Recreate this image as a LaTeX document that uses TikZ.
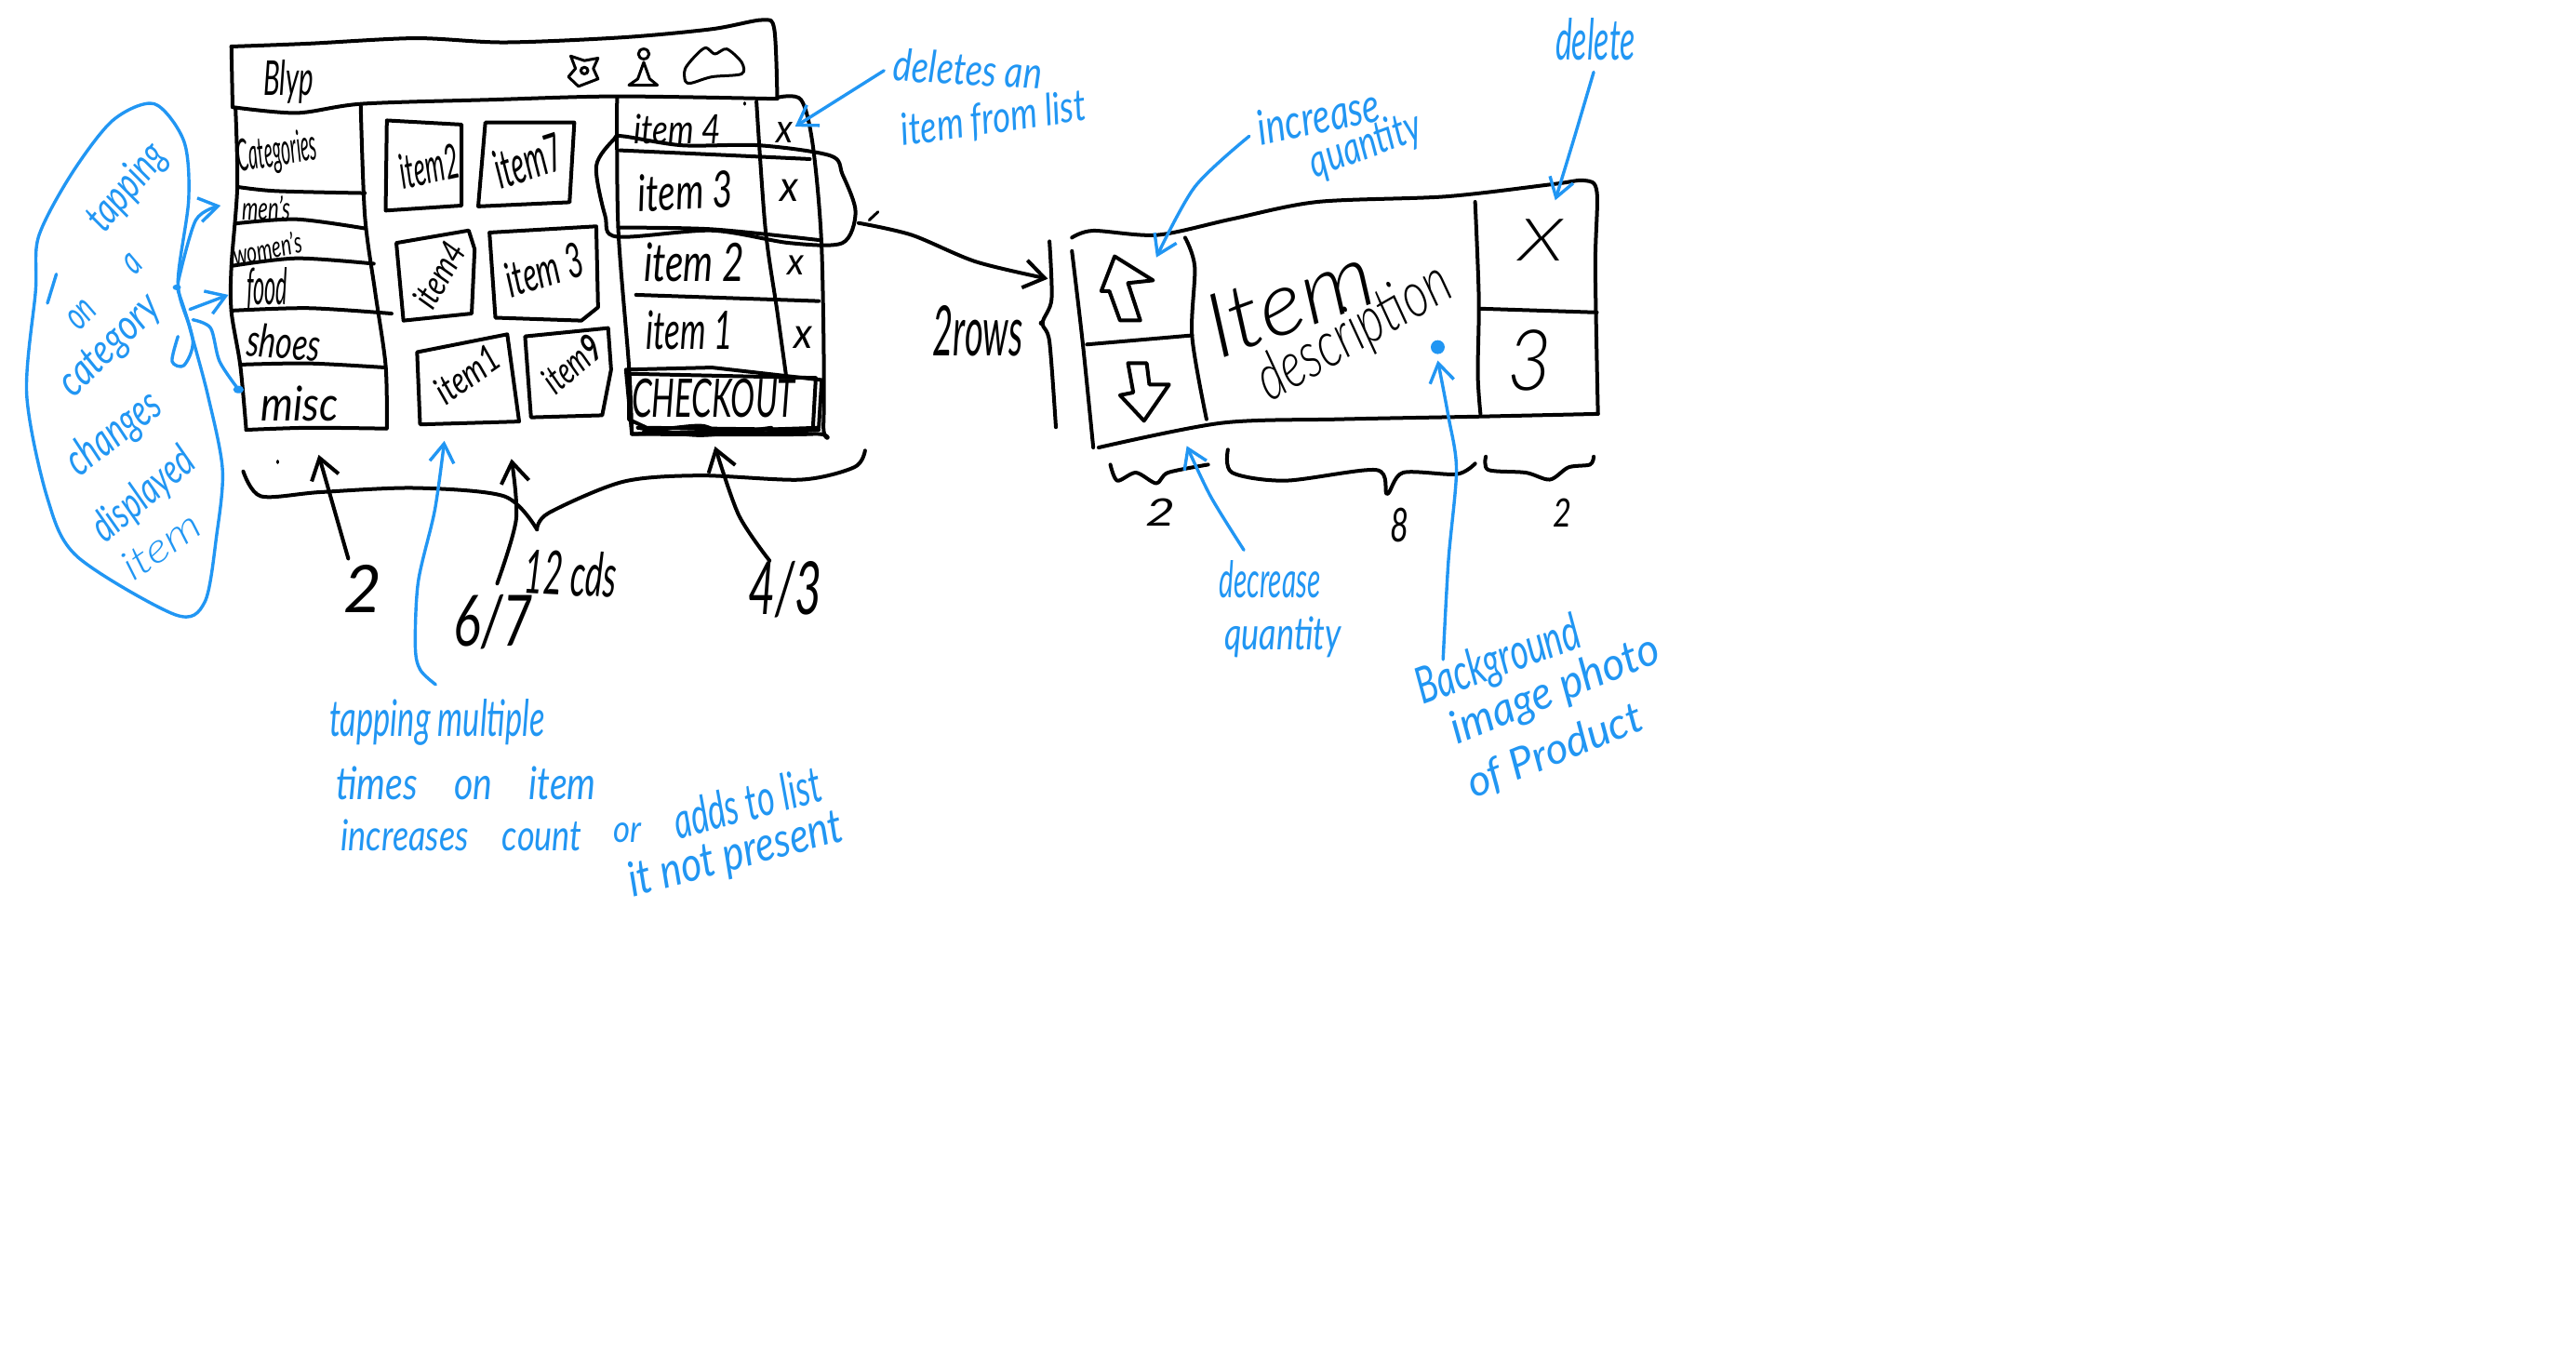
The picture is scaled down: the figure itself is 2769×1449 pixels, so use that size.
\documentclass[tikz,border=0pt]{standalone}
\usepackage{fontspec}
\usepackage{graphicx}
\setmainfont{Lato}
\newfontfamily\lightface{Lato Light}
\usetikzlibrary{arrows.meta}
\definecolor{inkblue}{RGB}{33,150,243}
\newdimen\pxu \pxu=.5pt
\newcommand\hw[3]{\resizebox{#1\pxu}{#2\pxu}{\itshape\vphantom{lg}#3}}
\newcommand\hwl[3]{\resizebox{#1\pxu}{#2\pxu}{\lightface\itshape\vphantom{lg}#3}}
\newcommand\sk[2]{\draw[#1] plot[smooth,tension=.5] coordinates {#2};}
\newcommand\skc[2]{\draw[#1] plot[smooth cycle,tension=.5] coordinates {#2};}
\tikzset{
  ink/.style={draw=black,line width=2pt,line cap=round,line join=round},
  thick ink/.style={ink,line width=2.6pt},
  bink/.style={draw=inkblue,line width=1.7pt,line cap=round,line join=round},
  head/.style={-{Straight Barb[length=11pt,width=15pt,line width=2pt]}},
  bhead/.style={-{Straight Barb[length=10pt,width=13pt,line width=1.7pt]}},
  lbl/.style={inner sep=0pt,text=black},
  blbl/.style={inner sep=0pt,text=inkblue},
  zoomA/.style={x=.31888pt,y=-.22321pt},
  zoomB/.style={shift={(490pt,0pt)},x=.28703pt,y=-.28703pt},
  zoomC/.style={shift={(150pt,-225pt)},x=.22321pt,y=-.17538pt},
}
\begin{document}
\begin{tikzpicture}[x=.5pt,y=-.5pt]
\useasboundingbox (0,0) rectangle (2769,1449);
\fill[white] (0,0) rectangle (2769,1449);

% ---- main screen sketch
\begin{scope}[zoomA]
\sk{ink}{(390,112) (520,105) (700,92) (850,102) (1050,90) (1200,70) (1285,48) (1305,70) (1310,235)}
\sk{ink}{(390,112) (392,258)}
\sk{ink}{(392,258) (500,272) (610,250) (830,240) (1040,232) (1310,238)}
% left column
\sk{ink}{(397,262) (400,450) (390,640) (390,750) (405,880) (415,1035)}
\sk{ink}{(415,1035) (520,1030) (650,1032)}
\sk{ink}{(608,255) (615,520) (632,700) (650,880) (652,1032)}
\sk{ink}{(400,450) (465,460) (615,465)}
\sk{ink}{(398,538) (500,528) (615,550)}
\sk{ink}{(392,640) (500,622) (630,635)}
\sk{ink}{(390,748) (520,742) (660,755)}
\sk{ink}{(405,878) (520,875) (650,885)}
% cards
\draw[ink] (652,290) -- (778,300) -- (778,495) -- (650,507) -- cycle;
\draw[ink] (818,295) -- (968,295) -- (960,487) -- (806,497) -- cycle;
\draw[ink] (668,585) -- (790,555) -- (800,600) -- (795,755) -- (680,772) -- cycle;
\draw[ink] (825,560) -- (1005,545) -- (1008,740) -- (980,772) -- (835,765) -- cycle;
\draw[ink] (703,848) -- (855,805) -- (875,1015) -- (708,1022) -- cycle;
\draw[ink] (885,810) -- (1025,790) -- (1030,890) -- (1015,1000) -- (895,1005) -- cycle;
% list column
\sk{ink}{(1040,235) (1042,550) (1060,880) (1065,1045)}
\sk{ink}{(1310,235) (1350,240) (1370,350) (1385,600) (1388,1020) (1370,1045) (1065,1045)}
\sk{ink}{(1275,245) (1290,550) (1310,750) (1325,905)}
\sk{ink}{(1045,362) (1200,372) (1365,383)}
\sk{ink}{(1042,548) (1200,552) (1380,578)}
\sk{ink}{(1072,710) (1380,725)}
\skc{ink}{(1035,335) (1005,400) (1020,520) (1040,570) (1200,555) (1330,585) (1420,585) (1442,510) (1420,420) (1400,375) (1280,350) (1150,350) (1050,328)}
% checkout
\draw[ink] (1055,890) -- (1200,885) -- (1385,915) -- (1380,1030) -- (1065,1045) -- cycle;
\draw[ink] (1060,900) -- (1375,910) -- (1370,1035) -- (1090,1030) -- (1060,1010) -- cycle;
\sk{ink}{(1085,1040) (1180,1025) (1230,1045) (1380,1035)}
\sk{ink}{(1075,1030) (1180,1048) (1300,1030)}
% header icons
\draw[ink,line width=1.5pt] (962,135) -- (985,146) -- (1008,140) -- (1000,165) -- (1008,190) -- (975,208) -- (958,185) -- (970,165) -- cycle;
\draw[ink,line width=1.5pt] (985,170) ellipse [x radius=6,y radius=8];
\draw[ink,line width=1.5pt] (1085,130) ellipse [x radius=9,y radius=12];
\draw[ink,line width=1.5pt] (1060,205) -- (1075,190) -- (1085,150) -- (1095,190) -- (1108,205) -- cycle;
\skc{ink,line width=1.5pt}{(1155,195) (1155,165) (1175,130) (1190,115) (1205,130) (1225,118) (1250,150) (1250,178) (1200,185) (1165,200)}
% stray marks
\draw[ink,line width=1.5pt] (468,1110) -- (468,1114);
\draw[ink,line width=1.5pt] (1465,530) -- (1480,510);
\draw[ink,line width=1.5pt] (1255,248) -- (1255,251);
% brace
\sk{ink}{(410,1135) (440,1195) (540,1185) (700,1175) (850,1195) (905,1275)}
\sk{ink}{(905,1275) (925,1235) (1050,1160) (1180,1145) (1350,1155) (1440,1125) (1458,1085)}
% coordinates of the black connectors
\coordinate (a2s) at (587,1345); \coordinate (a2e) at (537,1095);
\coordinate (a67s) at (838,1405); \coordinate (a67m) at (870,1250); \coordinate (a67e) at (862,1105);
\coordinate (a43s) at (1297,1350); \coordinate (a43m) at (1245,1240); \coordinate (a43e) at (1205,1075);
\coordinate (rowS) at (1447,537);
% blue blob
\skc{bink}{(260,250) (190,290) (120,420) (65,570) (60,700) (45,950) (80,1200) (130,1340) (295,1480) (345,1450) (365,1290) (375,1130) (350,950) (320,790) (300,680) (318,480) (310,340)}
\draw[bink] (95,660) -- (80,730);
\sk{bink}{(300,700) (325,820) (310,880) (290,870) (300,810)}
\fill[inkblue] (298,692) circle [radius=7];
\fill[inkblue] (402,938) circle [radius=9];
\coordinate (bMenS) at (300,680); \coordinate (bMenM) at (330,530); \coordinate (bMenE) at (372,495);
\coordinate (bFoodS) at (320,745); \coordinate (bFoodE) at (385,710);
\coordinate (bMiscS) at (325,770); \coordinate (bMiscM) at (355,790); \coordinate (bMiscN) at (370,870); \coordinate (bMiscE) at (402,938);
\coordinate (bDelS) at (1490,170); \coordinate (bDelE) at (1340,305);
\end{scope}

\draw[ink,head] plot[smooth,tension=.5] coordinates {(a2s) (a2e)};
\draw[ink,head] plot[smooth,tension=.5] coordinates {(a67s) (a67m) (a67e)};
\draw[ink,head] plot[smooth,tension=.5] coordinates {(a43s) (a43m) (a43e)};
\draw[bink,bhead] plot[smooth,tension=.5] coordinates {(bMenS) (bMenM) (bMenE)};
\draw[bink,bhead] (bFoodS) -- (bFoodE);
\draw[bink] plot[smooth,tension=.5] coordinates {(bMiscS) (bMiscM) (bMiscN) (bMiscE)};
\draw[bink,bhead] (bDelS) -- (bDelE);

% ---- row detail sketch
\begin{scope}[zoomB]
\sk{ink}{(300,445) (340,432) (460,440) (600,410) (760,378) (1000,368) (1200,345) (1260,338) (1283,360) (1280,500) (1285,775)}
\sk{ink}{(1285,775) (1060,780) (800,785) (580,792) (350,838)}
\sk{ink}{(300,470) (320,640) (340,838)}
\sk{ink}{(512,445) (530,500) (525,630) (552,785)}
\sk{ink}{(1055,378) (1062,560) (1060,700) (1065,775)}
\draw[ink] (328,645) -- (525,628);
\draw[ink] (1065,578) -- (1283,585);
\draw[ink] (390,600) -- (370,545) -- (355,545) -- (380,480) -- (452,525) -- (405,530) -- (428,600) -- cycle;
\draw[ink] (405,680) -- (440,680) -- (445,720) -- (482,720) -- (435,788) -- (390,740) -- (415,735) -- cycle;
\sk{ink}{(258,452) (262,560) (245,605) (258,640) (270,800)}
\fill[black] (243,605) circle [radius=5];
\sk{ink}{(372,870) (385,900) (420,885) (458,905) (480,885) (555,870)}
\sk{ink}{(592,842) (600,885) (700,900) (870,880) (890,925) (920,885) (1020,888) (1055,868)}
\sk{ink}{(1075,855) (1080,880) (1150,885) (1195,898) (1230,875) (1270,870) (1277,855)}
\coordinate (rowM0) at (0,440); \coordinate (rowM1) at (120,490); \coordinate (rowE) at (255,522);
\coordinate (bIncS) at (632,255); \coordinate (bIncM) at (530,350); \coordinate (bIncE) at (458,482);
\coordinate (bDeS) at (1277,135); \coordinate (bDeM) at (1240,260); \coordinate (bDeE) at (1205,375);
\coordinate (bDecS) at (622,1030); \coordinate (bDecM) at (560,930); \coordinate (bDecE) at (515,835);
\coordinate (bBgS) at (995,1235); \coordinate (bBgM) at (1005,1050); \coordinate (bBgN) at (1020,880); \coordinate (bBgO) at (1005,780); \coordinate (bBgE) at (985,675);
\fill[inkblue] (985,650) circle [radius=13];
\end{scope}
\draw[ink,head] plot[smooth,tension=.5] coordinates {(rowS) (rowM0) (rowM1) (rowE)};
\draw[bink,bhead] plot[smooth,tension=.5] coordinates {(bIncS) (bIncM) (bIncE)};
\draw[bink,bhead] plot[smooth,tension=.5] coordinates {(bDeS) (bDeM) (bDeE)};
\draw[bink,bhead] plot[smooth,tension=.5] coordinates {(bDecS) (bDecM) (bDecE)};
\draw[bink,bhead] plot[smooth,tension=.5] coordinates {(bBgS) (bBgM) (bBgN) (bBgO) (bBgE)};

% ---- lower note connector
\begin{scope}[zoomC]
\coordinate (bTapS) at (377,815); \coordinate (bTapA) at (340,770); \coordinate (bTapB) at (328,700);
\coordinate (bTapC) at (335,500); \coordinate (bTapD) at (375,280); \coordinate (bTapE) at (398,68);
\end{scope}
\draw[bink,bhead] plot[smooth,tension=.5] coordinates {(bTapS) (bTapA) (bTapB) (bTapC) (bTapD) (bTapE)};

% ---- texts in the main screen
\node[lbl] (tBlyp) at (310,88) {\hw{54}{38}{Blyp}};
\node[lbl,rotate=9] (tCat) at (298,165) {\hw{86}{35}{Categories}};
\node[lbl] (tMen) at (286,227) {\hw{52}{26}{men's}};
\node[lbl,rotate=12] (tWomen) at (288,270) {\hw{75}{24}{women's}};
\node[lbl] (tFood) at (287,312) {\hw{44}{40}{food}};
\node[lbl,rotate=-5] (tShoes) at (305,372) {\hw{79}{36}{shoes}};
\node[lbl] (tMisc) at (322,438) {\hw{83}{38}{misc}};
\node[lbl,rotate=12] (cA) at (462,183) {\hw{64}{38}{item2}};
\node[lbl,rotate=18] (cB) at (569,177) {\hw{74}{42}{item7}};
\node[lbl,rotate=60] (cC) at (475,297) {\hw{75}{28}{item4}};
\node[lbl,rotate=17] (cD) at (586,294) {\hw{85}{38}{item 3}};
\node[lbl,rotate=35] (cE) at (504,405) {\hw{76}{30}{item1}};
\node[lbl,rotate=40] (cF) at (617,394) {\hw{70}{30}{item{\bfseries 9}}};
\node[lbl] (lA) at (728,142) {\hw{93}{32}{item 4}};
\node[lbl,rotate=3] (lB) at (737,210) {\hw{102}{40}{item 3}};
\node[lbl] (lC) at (746,287) {\hw{108}{42}{item 2}};
\node[lbl] (lD) at (741,360) {\hw{93}{42}{item 1}};
\node[lbl] (xA) at (843,141) {\hw{18}{32}{x}};
\node[lbl] (xB) at (848,204) {\hw{20}{34}{x}};
\node[lbl] (xC) at (855,284) {\hw{18}{30}{x}};
\node[lbl] (xD) at (863,362) {\hw{20}{34}{x}};
\node[lbl] (tCheck) at (767,433) {\hw{176}{42}{CHECKOUT}};
% dimensions
\node[lbl] (n2) at (390,639) {\hw{41}{52}{2}};
\node[lbl,rotate=-3] (n12) at (613,622) {\hw{99}{48}{12 cds}};
\node[lbl] (n67) at (530,673) {\hw{85}{56}{6/7}};
\node[lbl] (n43) at (844,639) {\hw{79}{58}{4/3}};
% notes
\node[blbl,rotate=50] (b1) at (137,202) {\hw{108}{34}{tapping}};
\node[blbl,rotate=45] (b2) at (112,313) {\hw{100}{32}{on\qquad a}};
\node[blbl,rotate=45] (b3) at (118,372) {\hw{135}{34}{category}};
\node[blbl,rotate=38] (b4) at (123,467) {\hw{116}{36}{changes}};
\node[blbl,rotate=40] (b5) at (155,533) {\hw{130}{34}{displayed}};
\node[blbl,rotate=35] (b6) at (175,589) {\hw{94}{32}{\lightface item}};
\node[blbl,rotate=-3] (bn1) at (1040,78) {\hw{160}{35}{deletes an}};
\node[blbl,rotate=8] (bn2) at (1068,130) {\hw{200}{35}{item from list}};
\node[blbl] (bt1) at (470,776) {\hw{232}{40}{tapping multiple}};
\node[blbl] (bt2) at (501,846) {\hw{279}{36}{times\quad on\quad item}};
\node[blbl] (bt3) at (496,902) {\hw{259}{34}{increases\quad count}};
\node[blbl] (bt4) at (674,894) {\hw{30}{30}{or}};
\node[blbl,rotate=15] (bt5) at (804,867) {\hw{163}{40}{adds to list}};
\node[blbl,rotate=15] (bt6) at (791,920) {\hw{237}{38}{it not present}};
% row detail
\node[lbl,rotate=20] (rItem) at (1388,330) {\hwl{185}{70}{Item}};
\node[lbl,rotate=30] (rDesc) at (1456,359) {\hwl{230}{50}{description}};
\node[lbl] (rX) at (1656,263) {\hwl{48}{46}{X}};
\node[lbl] (r3) at (1644,395) {\hwl{48}{66}{3}};
\node[lbl] (rRows) at (1051,362) {\hw{97}{55}{2rows}};
\node[lbl] (rn1) at (1247,554) {\hw{32}{30}{2}};
\node[lbl] (rn2) at (1504,569) {\hw{20}{37}{8}};
\node[lbl] (rn3) at (1679,555) {\hw{20}{31}{2}};
\node[blbl,rotate=12] (bi1) at (1418,129) {\hw{133}{38}{increase}};
\node[blbl,rotate=20] (bi2) at (1468,157) {\hw{125}{36}{quantity}};
\node[blbl] (bd) at (1715,48) {\hw{86}{45}{delete}};
\node[blbl] (bq1) at (1365,627) {\hw{109}{40}{decrease}};
\node[blbl] (bq2) at (1379,685) {\hw{126}{36}{quantity}};
\node[blbl,rotate=20] (bb1) at (1611,712) {\hw{185}{40}{Background}};
\node[blbl,rotate=22] (bb2) at (1672,743) {\hw{238}{36}{image photo}};
\node[blbl,rotate=22] (bb3) at (1672,809) {\hw{200}{34}{of Product}};
\end{tikzpicture}
\end{document}
